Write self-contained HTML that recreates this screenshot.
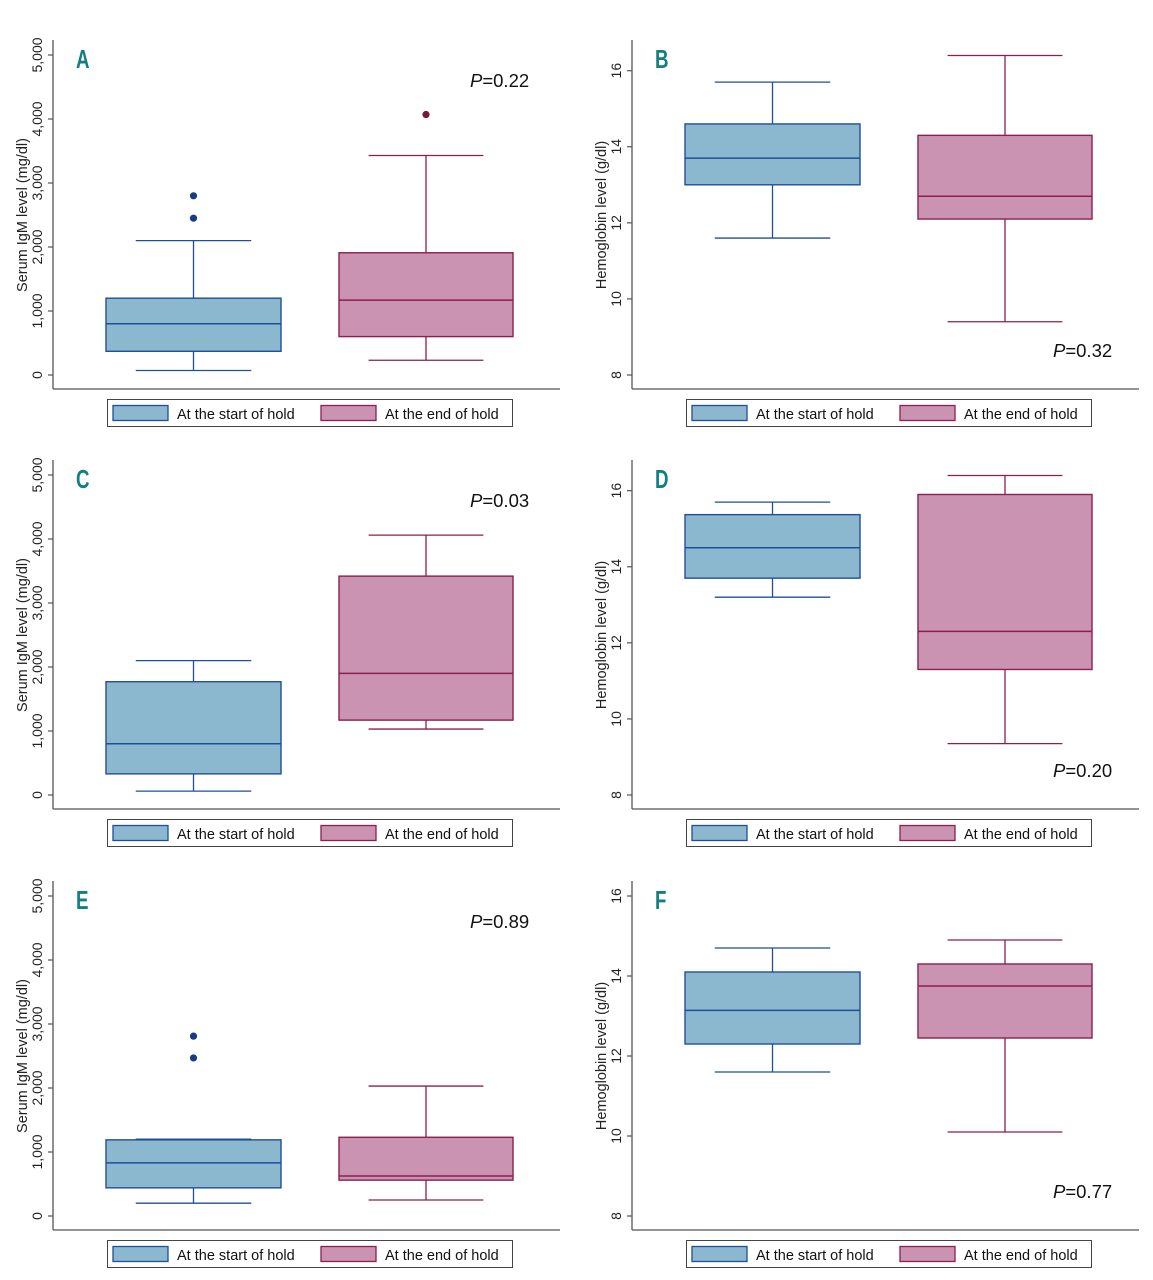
<!DOCTYPE html>
<html><head><meta charset="utf-8">
<style>
html,body{margin:0;padding:0;background:#fff;}
svg{display:block;font-family:"Liberation Sans",sans-serif;}
</style></head>
<body>
<svg id="chart" width="1153" height="1280" viewBox="0 0 1153 1280"></svg>
<script>
// Data arrays
const panelLetters = ["A","B","C","D","E","F"];
const pValues = ["0.22","0.32","0.03","0.20","0.89","0.77"];
const groupNames = ["At the start of hold","At the end of hold"];
const igmTicks = [0,1000,2000,3000,4000,5000];
const igmTickLabels = ["0","1,000","2,000","3,000","4,000","5,000"];
const hbTicks = [8,10,12,14,16];
const hbTickLabels = ["8","10","12","14","16"];
// [min, q1, median, q3, max] per group
const startA = [70,370,800,1200,2100];
const endA = [230,600,1170,1910,3430];
const startB = [11.6,13.0,13.7,14.6,15.7];
const endB = [9.4,12.1,12.7,14.3,16.4];
const startC = [60,330,800,1770,2100];
const endC = [1030,1170,1900,3420,4060];
const startD = [13.2,13.7,14.5,15.37,15.7];
const endD = [9.35,11.3,12.3,15.9,16.4];
const startE = [200,440,830,1190,1200];
const endE = [250,560,625,1230,2030];
const startF = [11.6,12.3,13.14,14.1,14.7];
const endF = [10.1,12.45,13.75,14.3,14.9];
const outStartA = [2450,2800];
const outEndA = [4070];
const outStartE = [2470,2810];
const outEndE = [];

const svg = document.getElementById('chart');
const NS = "http://www.w3.org/2000/svg";
function mk(tag, attrs, parent){
  const e = document.createElementNS(NS, tag);
  for (const k in attrs) e.setAttribute(k, attrs[k]);
  (parent||svg).appendChild(e);
  return e;
}
const colors = [
  {fill:"#8bb7cf", stroke:"#1f4f98", dot:"#173b86"},
  {fill:"#c993b1", stroke:"#8c1f4d", dot:"#7a1738"}
];

const panels = [
  {id:0, igm:true, x0:0, y0:0, s:startA, e:endA, os:outStartA, oe:outEndA},
  {id:1, igm:false, x0:579, y0:0, s:startB, e:endB, os:[], oe:[]},
  {id:2, igm:true, x0:0, y0:420, s:startC, e:endC, os:[], oe:[]},
  {id:3, igm:false, x0:579, y0:420, s:startD, e:endD, os:[], oe:[]},
  {id:4, igm:true, x0:0, y0:841, s:startE, e:endE, os:outStartE, oe:outEndE},
  {id:5, igm:false, x0:579, y0:841, s:startF, e:endF, os:[], oe:[]}
];

panels.forEach(p => {
  const g = mk('g', {});
  
  
  const ox = p.x0, oy = p.y0;
  const axisX = ox + 53;
  const bottomY = oy + 389;
  let yScale;
  if (p.igm) {
    yScale = v => oy + 375 - v * 0.064;
  } else if (p.id === 5) {
    yScale = v => oy + 375 - (v - 8) * 40;
  } else {
    yScale = v => oy + 375 - (v - 8) * 38.04;
  }
  const ticks = p.igm ? igmTicks : hbTicks;
  const tlabels = p.igm ? igmTickLabels : hbTickLabels;
  const ya = mk('line', {x1:axisX, y1:oy+40, x2:axisX, y2:bottomY, stroke:"#555", "stroke-width":1.3}, g);
  
  
  const xa = mk('line', {x1:axisX, y1:bottomY, x2:ox+560, y2:bottomY, stroke:"#555", "stroke-width":1.3}, g);
  
  
  ticks.forEach((t,i) => {
    const y = yScale(t);
    mk('line', {x1:axisX-5, y1:y, x2:axisX, y2:y, stroke:"#555", "stroke-width":1.2}, g);
    const tx = mk('text', {x:0, y:0, transform:`translate(${axisX-11},${y}) rotate(-90)`, "text-anchor":"middle", "font-size":14, fill:"#222"}, g);
    tx.textContent = tlabels[i];
    
    
  });
  const yt = mk('text', {x:0, y:0, transform:`translate(${ox+27},${oy+215}) rotate(-90)`, "text-anchor":"middle", "font-size":14.5, fill:"#222"}, g);
  yt.textContent = p.igm ? "Serum IgM level (mg/dl)" : "Hemoglobin level (g/dl)";
  
  
  const lt = mk('text', {x:0, y:0, "font-size":26, "font-weight":"bold", fill:"#128080", transform:`translate(${ox+76},${oy+68}) scale(0.72,1)`}, g);
  lt.textContent = panelLetters[p.id];
  
  
  const pTop = (p.igm) ? oy+87 : oy+357;
  const pX = p.igm ? ox+470 : ox+474;
  const pt = mk('text', {x:pX, y:pTop, "font-size":18.5, fill:"#111"}, g);
  pt.innerHTML = '<tspan font-style="italic">P</tspan>=' + pValues[p.id];
  
  
  const bxs = [{l:ox+106, r:ox+281, d:p.s, o:p.os}, {l:ox+339, r:ox+513, d:p.e, o:p.oe}];
  bxs.forEach((b,gi) => {
    const c = colors[gi];
    const cx = (b.l + b.r)/2;
    const half = (b.r - b.l) * 0.33;
    const bg = mk('g', {}, g);
    
    
    const [mn,q1,md,q3,mx] = b.d;
    mk('line', {x1:cx, y1:yScale(mx), x2:cx, y2:yScale(q3), stroke:c.stroke, "stroke-width":1.3}, bg);
    mk('line', {x1:cx, y1:yScale(q1), x2:cx, y2:yScale(mn), stroke:c.stroke, "stroke-width":1.3}, bg);
    mk('line', {x1:cx-half, y1:yScale(mx), x2:cx+half, y2:yScale(mx), stroke:c.stroke, "stroke-width":1.3}, bg);
    mk('line', {x1:cx-half, y1:yScale(mn), x2:cx+half, y2:yScale(mn), stroke:c.stroke, "stroke-width":1.3}, bg);
    mk('rect', {x:b.l, y:yScale(q3), width:b.r-b.l, height:yScale(q1)-yScale(q3), fill:c.fill, stroke:c.stroke, "stroke-width":1.4}, bg);
    mk('line', {x1:b.l, y1:yScale(md), x2:b.r, y2:yScale(md), stroke:c.stroke, "stroke-width":1.5}, bg);
    b.o.forEach(v => {
      const d = mk('circle', {cx:cx, cy:yScale(v), r:3.6, fill:c.dot}, bg);
      
      
    });
  });
  const lg = mk('g', {}, g);
  
  
  mk('rect', {x:ox+107.5, y:oy+399.5, width:405, height:27, fill:"#fff", stroke:"#444", "stroke-width":1}, lg);
  const sw = [ox+113, ox+321];
  const txs = [ox+177, ox+385];
  [0,1].forEach(i => {
    const e = mk('g', {}, lg);
    
    
    mk('rect', {x:sw[i], y:oy+405.5, width:55, height:15, fill:colors[i].fill, stroke:colors[i].stroke, "stroke-width":1.3}, e);
    const t = mk('text', {x:txs[i], y:oy+419, "font-size":14.5, fill:"#111"}, e);
    t.textContent = groupNames[i];
  });
});
</script>
</body></html>
